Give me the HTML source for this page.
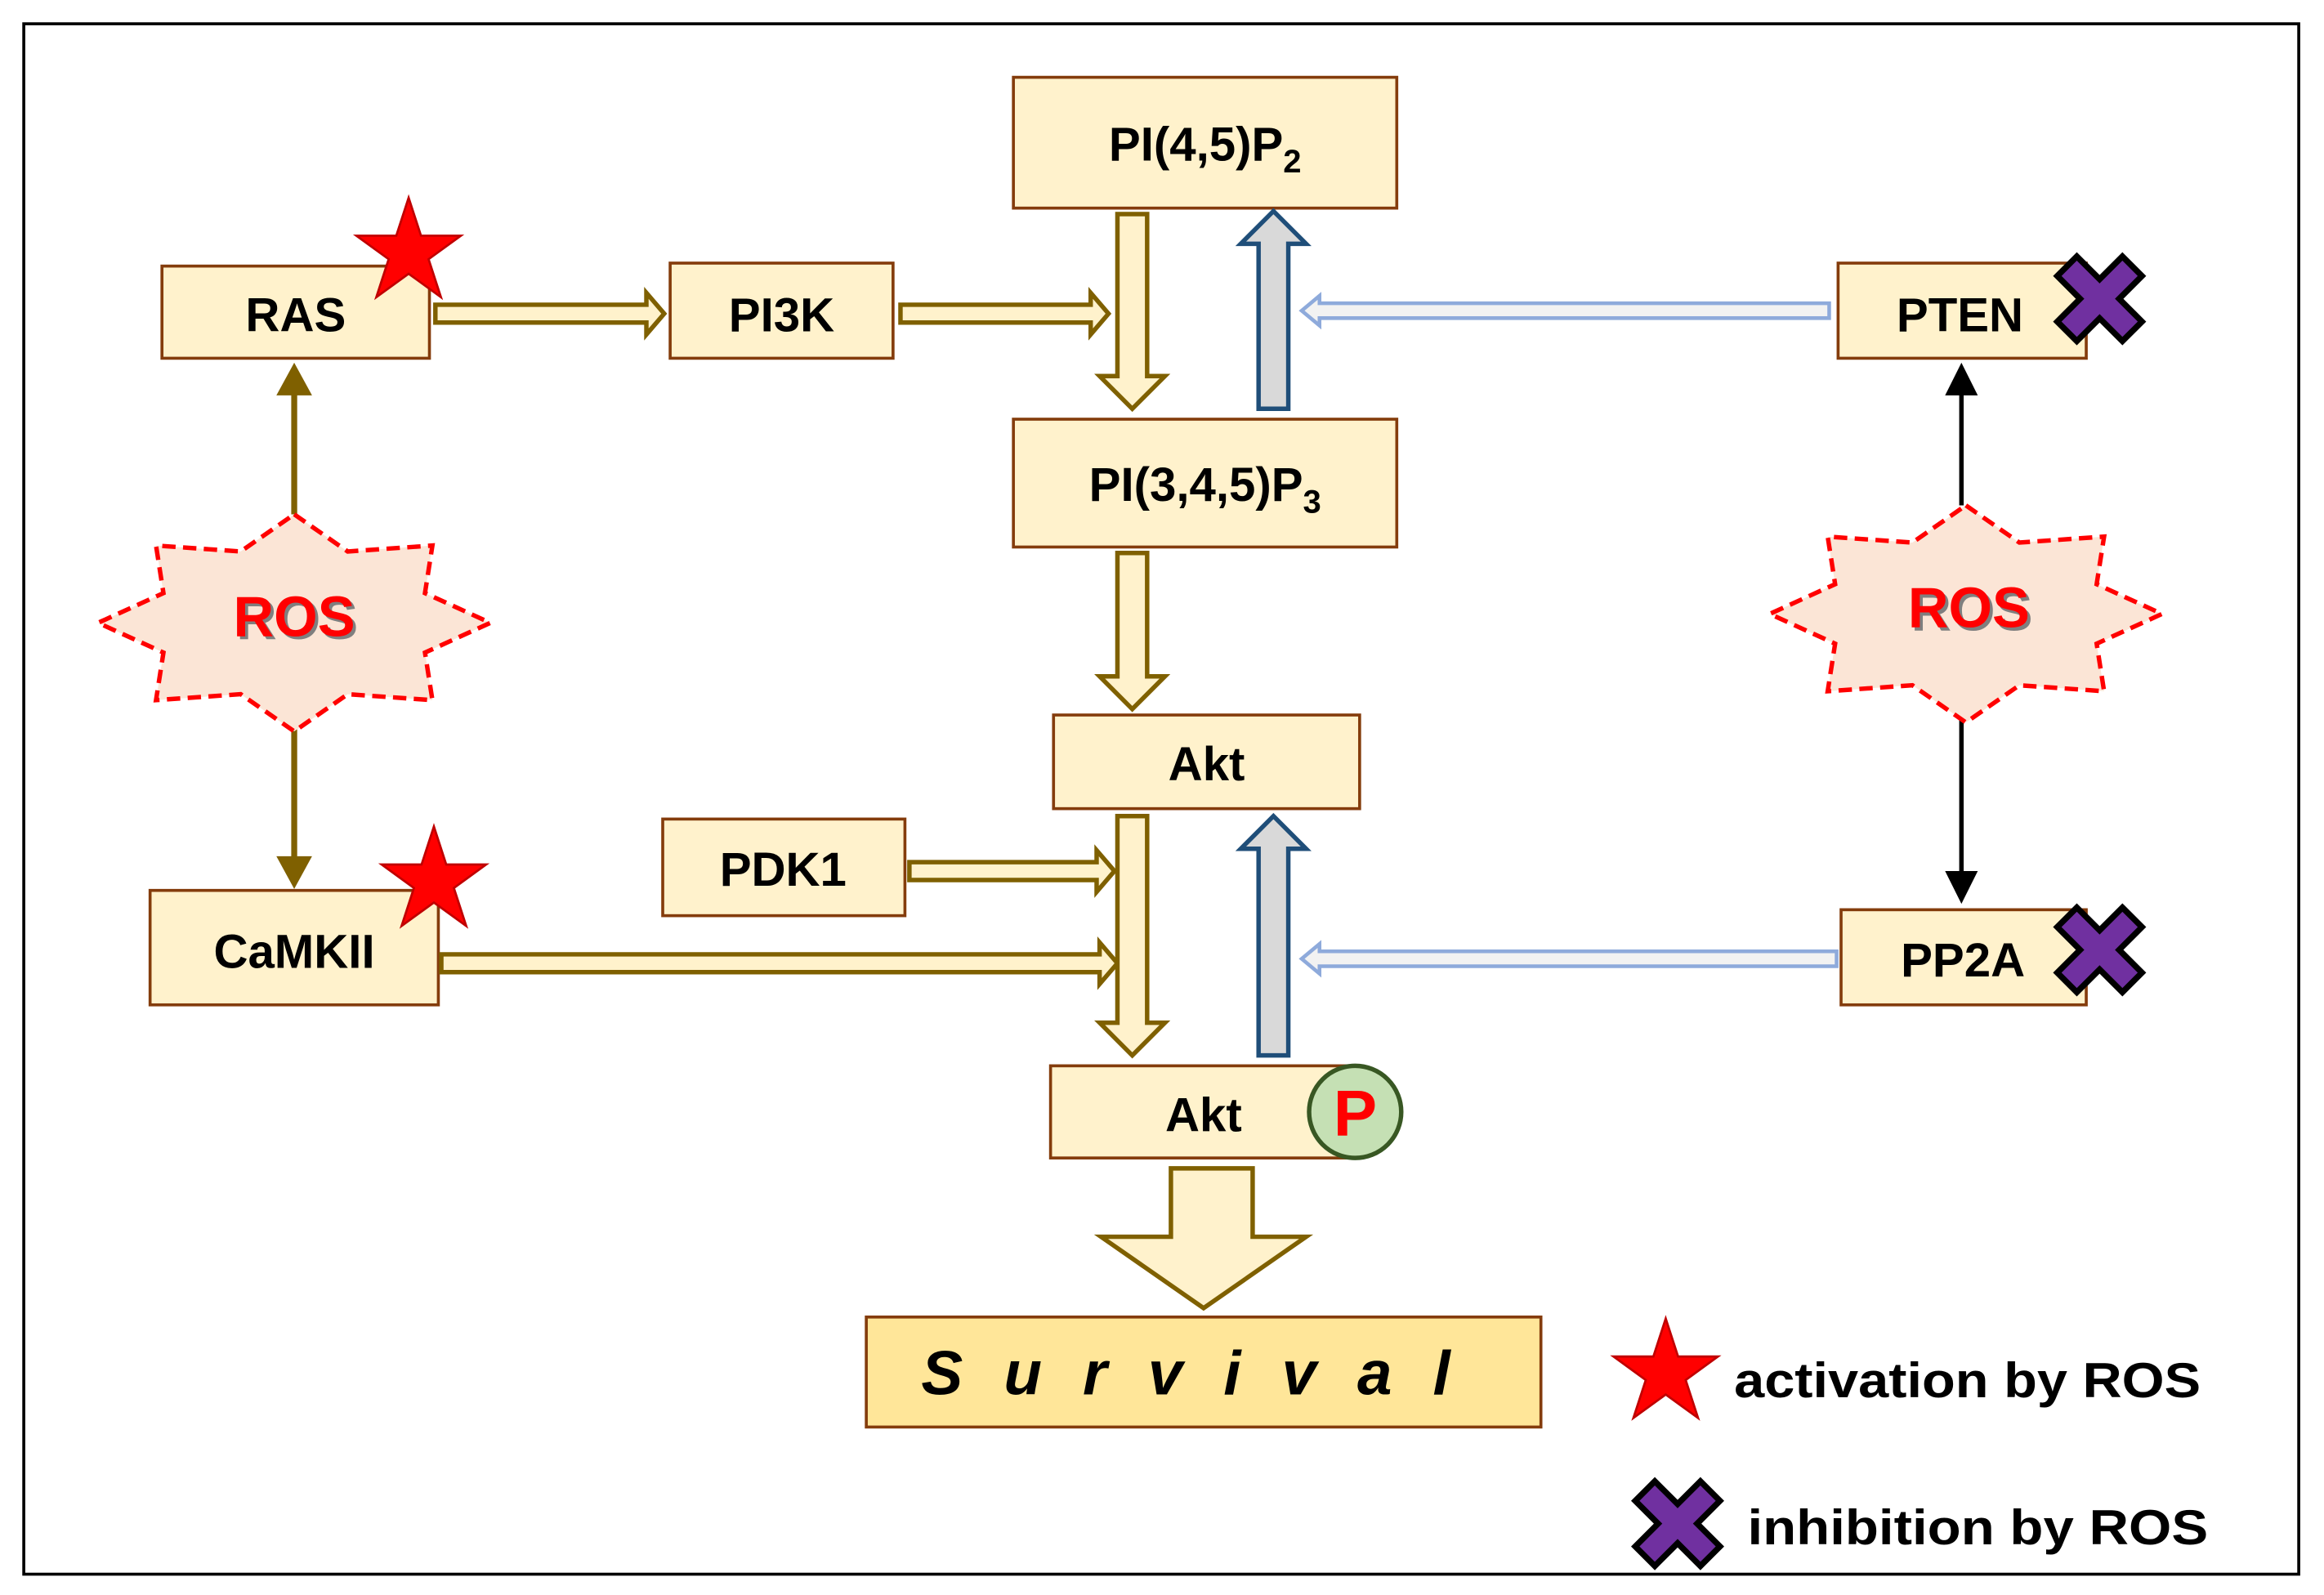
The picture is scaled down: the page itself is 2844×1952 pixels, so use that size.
<!DOCTYPE html>
<html><head><meta charset="utf-8"><style>html,body{margin:0;padding:0;background:#fff}svg{display:block}</style></head>
<body>
<svg width="2844" height="1952" viewBox="0 0 1564 1073" preserveAspectRatio="none" xmlns="http://www.w3.org/2000/svg" font-family="Liberation Sans, sans-serif">
<defs>
<polygon id="st" points="0,-1 0.2245,-0.309 0.951,-0.309 0.363,0.118 0.588,0.809 0,0.382 -0.588,0.809 -0.363,0.118 -0.951,-0.309 -0.2245,-0.309"/>
<polygon id="cx" points="-0.3,-1 0.3,-1 0.3,-0.3 1,-0.3 1,0.3 0.3,0.3 0.3,1 -0.3,1 -0.3,0.3 -1,0.3 -1,-0.3 -0.3,-0.3"/>
</defs>
<rect x="16" y="16" width="1531" height="1043" fill="#fff" stroke="#000" stroke-width="2"/>
<g fill="#fff2cc" stroke="#843c0c" stroke-width="2">
<rect x="682" y="52" width="258" height="88"/>
<rect x="109" y="179" width="180" height="62"/>
<rect x="451" y="177" width="150" height="64"/>
<rect x="1237" y="177" width="167" height="64"/>
<rect x="682" y="282" width="258" height="86"/>
<rect x="709" y="481" width="206" height="63"/>
<rect x="446" y="551" width="163" height="65"/>
<rect x="101" y="599" width="194" height="77"/>
<rect x="1239" y="612" width="165" height="64"/>
<rect x="707" y="717" width="206" height="62"/>
<rect x="583" y="886" width="454" height="74" fill="#ffe699"/>
</g>
<g fill="#fff2cc" stroke="#7f6000" stroke-width="3" stroke-linejoin="miter">
<polygon points="293,205 435,205 435,197 447,211 435,225 435,217 293,217"/>
<polygon points="606,205 734,205 734,197 746,211 734,225 734,217 606,217"/>
<polygon points="612,580 738,580 738,572 750,586 738,600 738,592 612,592"/>
<polygon points="297,642 740,642 740,634 752,648 740,662 740,654 297,654"/>
<polygon points="752,144 772,144 772,253 784,253 762,275 740,253 752,253"/>
<polygon points="752,372 772,372 772,455 784,455 762,477 740,455 752,455"/>
<polygon points="752,549 772,549 772,688 784,688 762,710 740,688 752,688"/>
<polygon points="788,786 843,786 843,832 879,832 810,880 741,832 788,832"/>
</g>
<g fill="#d9d9d9" stroke="#1f4e79" stroke-width="3">
<polygon points="847,275 867,275 867,164 879,164 857,142 835,164 847,164"/>
<polygon points="847,710 867,710 867,571 879,571 857,549 835,571 847,571"/>
</g>
<g fill="#f2f2f2" stroke="#8eaadb" stroke-width="2.5">
<polygon points="1231,204 888,204 888,199 876,209 888,219 888,214 1231,214"/>
<polygon points="1236,640 888,640 888,635 876,645 888,655 888,650 1236,650"/>
</g>
<g stroke="#7f6000" stroke-width="4" fill="#7f6000">
<line x1="198" y1="346" x2="198" y2="262"/><polygon points="186,266 210,266 198,244" stroke="none"/>
<line x1="198" y1="486" x2="198" y2="580"/><polygon points="186,576 210,576 198,598" stroke="none"/>
</g>
<g stroke="#000" stroke-width="3" fill="#000">
<line x1="1320" y1="340" x2="1320" y2="262"/><polygon points="1309,266 1331,266 1320,244" stroke="none"/>
<line x1="1320" y1="482" x2="1320" y2="590"/><polygon points="1309,586 1331,586 1320,608" stroke="none"/>
</g>
<g fill="#fbe5d6" stroke="#ff0000" stroke-width="3" stroke-dasharray="9,5">
<polygon points="198,346 234,371 291,367 286,399 330,419 286,439 291,471 234,467 198,492 162,467 105,471 110,439 66,419 110,399 105,367 162,371"/>
<polygon transform="translate(1125,-6)" points="198,346 234,371 291,367 286,399 330,419 286,439 291,471 234,467 198,492 162,467 105,471 110,439 66,419 110,399 105,367 162,371"/>
</g>
<g font-weight="bold" font-size="38" text-anchor="middle">
<text x="200" y="430" fill="#7f7f7f" textLength="82" lengthAdjust="spacingAndGlyphs">ROS</text>
<text x="198" y="428" fill="#ff0000" textLength="82" lengthAdjust="spacingAndGlyphs">ROS</text>
<text x="1327" y="424" fill="#7f7f7f" textLength="82" lengthAdjust="spacingAndGlyphs">ROS</text>
<text x="1325" y="422" fill="#ff0000" textLength="82" lengthAdjust="spacingAndGlyphs">ROS</text>
</g>
<g fill="#ff0000" stroke="#c00000" stroke-width="0.04">
<use href="#st" transform="translate(275,170) scale(37)"/>
<use href="#st" transform="translate(292,593) scale(37)"/>
<use href="#st" transform="translate(1121,924) scale(37)"/>
</g>
<g fill="#7030a0" stroke="#000" stroke-width="0.13">
<use href="#cx" transform="translate(1413,201) rotate(45) scale(31)"/>
<use href="#cx" transform="translate(1413,639) rotate(45) scale(31)"/>
<use href="#cx" transform="translate(1129,1025) rotate(45) scale(31)"/>
</g>
<circle cx="912" cy="748" r="31" fill="#c5e0b4" stroke="#385723" stroke-width="3"/>
<text x="912" y="764" font-size="44" font-weight="bold" fill="#ff0000" text-anchor="middle">P</text>
<g font-weight="bold" font-size="32" fill="#000" text-anchor="middle">
<text x="811" y="108">PI(4,5)P<tspan font-size="22" dy="8">2</tspan></text>
<text x="199" y="223">RAS</text>
<text x="526" y="223">PI3K</text>
<text x="1319" y="223">PTEN</text>
<text x="811" y="337">PI(3,4,5)P<tspan font-size="22" dy="8">3</tspan></text>
<text x="812" y="525">Akt</text>
<text x="527" y="596">PDK1</text>
<text x="198" y="651">CaMKII</text>
<text x="1321" y="657">PP2A</text>
<text x="810" y="761">Akt</text>
</g>
<text x="620" y="938" font-size="42" font-weight="bold" font-style="italic" textLength="356" lengthAdjust="spacing">S u r v i v a l</text>
<text x="1167" y="940" font-size="33" font-weight="bold" textLength="314" lengthAdjust="spacingAndGlyphs">activation by ROS</text>
<text x="1176" y="1039" font-size="33" font-weight="bold" textLength="310" lengthAdjust="spacingAndGlyphs">inhibition by ROS</text>
</svg>
</body></html>
